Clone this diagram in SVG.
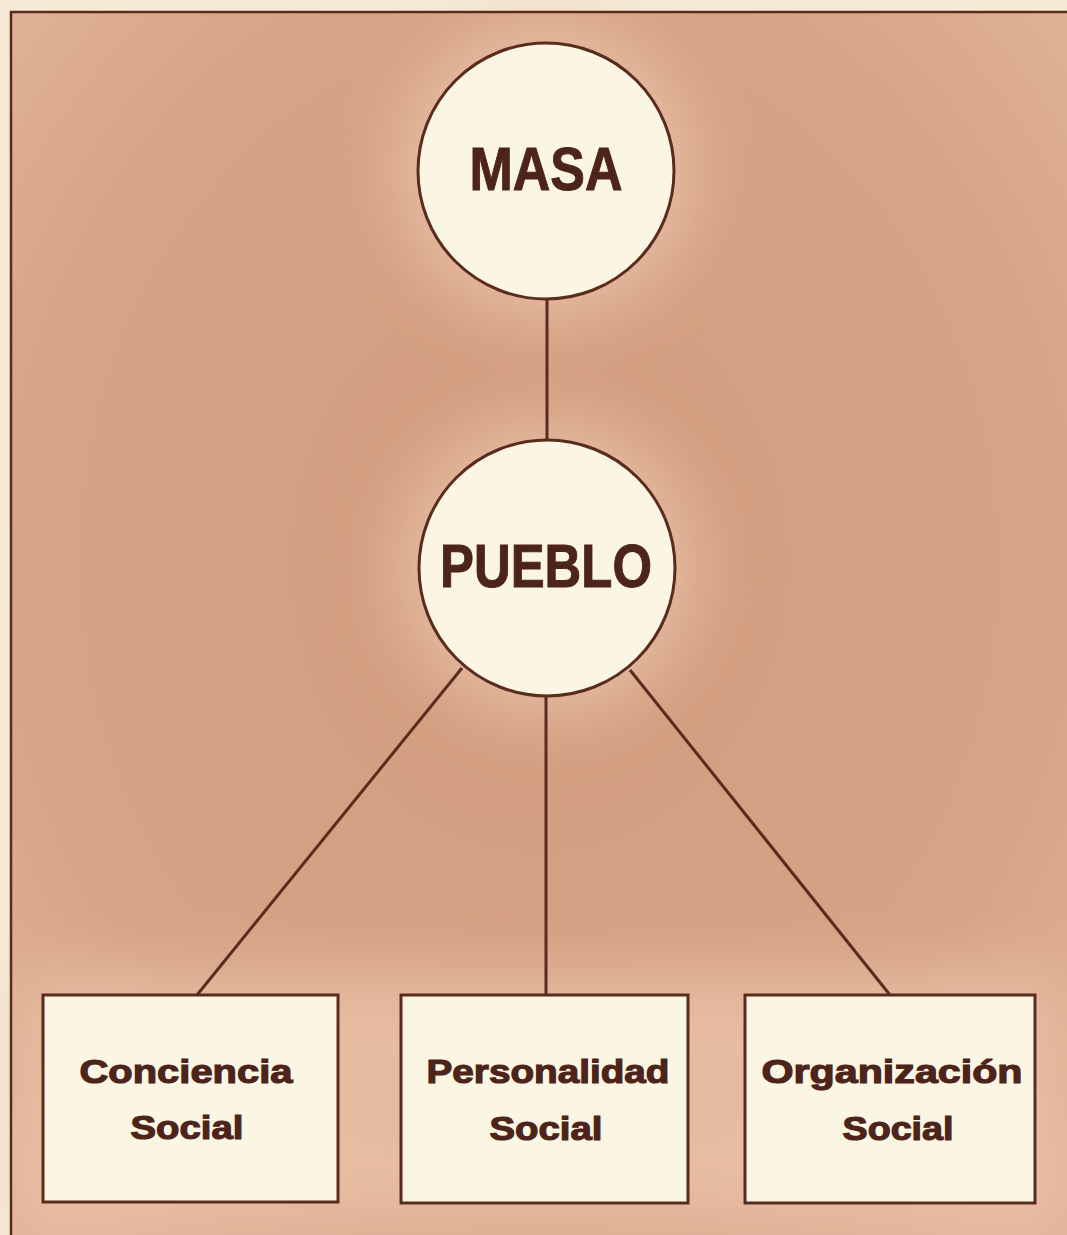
<svg xmlns="http://www.w3.org/2000/svg" width="1067" height="1235" viewBox="0 0 1067 1235">
<style>
.node{fill:#fbf5e4;stroke:#5a2c1e;stroke-width:3}
.edge{stroke:#5a2c1e;stroke-width:3;fill:none}
.big{font-family:"Liberation Sans","DejaVu Sans",sans-serif;font-weight:bold;font-size:62px;fill:#4c2419;stroke:#4c2419;stroke-width:1;text-anchor:middle}
.small{font-family:"Liberation Sans","DejaVu Sans",sans-serif;font-weight:bold;font-size:34px;fill:#4c2419;stroke:#4c2419;stroke-width:1.2;text-anchor:middle}
</style>
<defs>
<filter id="glow" x="-50%" y="-50%" width="200%" height="200%"><feGaussianBlur stdDeviation="32"/></filter>
<radialGradient id="bg" cx="0.5" cy="0.45" r="0.7">
<stop offset="0" stop-color="#d29c7e"/>
<stop offset="0.7" stop-color="#d6a386"/>
<stop offset="1" stop-color="#e2b499"/>
</radialGradient>
</defs>
<rect x="0" y="0" width="1067" height="1235" fill="#f5ead6"/>
<rect x="11" y="12" width="1056" height="1223" fill="url(#bg)"/>
<g filter="url(#glow)" fill="#ecc5ab" opacity="0.75">
<circle cx="546" cy="171" r="150"/>
<circle cx="547" cy="568" r="150"/>
<rect x="25" y="975" width="1030" height="250"/>
</g>
<path d="M11 1235 V12 H1067" stroke="#5a2c1e" stroke-width="2.5" fill="none"/>
<g id="connectors">
<line class="edge" x1="547" y1="299" x2="547" y2="441"/>
<line class="edge" x1="462" y1="668" x2="197" y2="995"/>
<line class="edge" x1="546" y1="697" x2="546" y2="995"/>
<line class="edge" x1="630" y1="670" x2="890" y2="995"/>
</g>
<g id="masa">
<circle class="node" cx="546" cy="171" r="128"/>
<text class="big" x="546" y="190" textLength="153" lengthAdjust="spacingAndGlyphs">MASA</text>
</g>
<g id="pueblo">
<circle class="node" cx="547" cy="568" r="128"/>
<text class="big" x="546" y="587" textLength="212" lengthAdjust="spacingAndGlyphs">PUEBLO</text>
</g>
<g id="conciencia">
<rect class="node" x="43" y="995" width="295" height="207"/>
<text class="small" x="186" y="1083" textLength="213" lengthAdjust="spacingAndGlyphs">Conciencia</text>
<text class="small" x="187" y="1139" textLength="113" lengthAdjust="spacingAndGlyphs">Social</text>
</g>
<g id="personalidad">
<rect class="node" x="401" y="995" width="287" height="208"/>
<text class="small" x="548" y="1083" textLength="243" lengthAdjust="spacingAndGlyphs">Personalidad</text>
<text class="small" x="546" y="1140" textLength="113" lengthAdjust="spacingAndGlyphs">Social</text>
</g>
<g id="organizacion">
<rect class="node" x="745" y="995" width="290" height="208"/>
<text class="small" x="892" y="1083" textLength="261" lengthAdjust="spacingAndGlyphs">Organización</text>
<text class="small" x="898" y="1140" textLength="111" lengthAdjust="spacingAndGlyphs">Social</text>
</g>
</svg>
